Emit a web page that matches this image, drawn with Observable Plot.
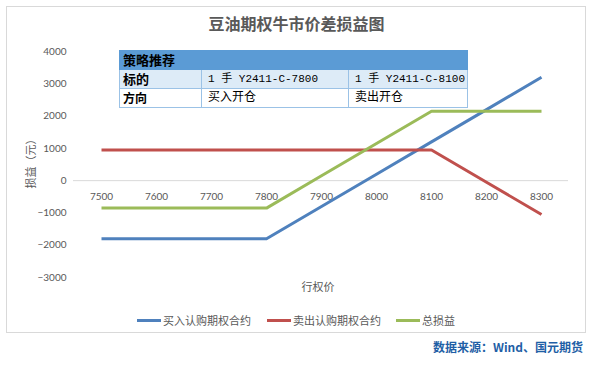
<!DOCTYPE html>
<html>
<head>
<meta charset="utf-8">
<script src="https://cdn.jsdelivr.net/npm/d3@7"></script>
<script src="https://cdn.jsdelivr.net/npm/@observablehq/plot@0.6"></script>
<style>
  html, body { margin: 0; padding: 0; background: #fff; }
  #wrap { position: relative; width: 604px; height: 367px; overflow: hidden;
          font-family: Lato, "Noto Sans CJK SC", sans-serif; color: #595959; }
  #frame { position: absolute; left: 6px; top: 6px; width: 580px; height: 327px;
           border: 1px solid #d9d9d9; box-sizing: border-box; }
  #title { position: absolute; left: 6px; width: 581px; top: 11px; text-align: center;
           font-size: 16px; font-weight: bold; color: #595959; font-family: "Noto Sans CJK SC", sans-serif; }
  #chart { position: absolute; left: 0; top: 0; }
  #ylabel { position: absolute; left: 30px; top: 161px; transform: translate(-50%, -50%) rotate(-90deg);
            font-size: 11px; white-space: nowrap; font-family: "Noto Sans CJK SC", sans-serif; }
  #xlabel { position: absolute; left: 318px; top: 286px; transform: translate(-50%, -50%);
            font-size: 11px; font-family: "Noto Sans CJK SC", sans-serif; }
  #legend { position: absolute; top: 312px; left: 0; width: 604px; height: 16px;
            font-size: 11px; font-family: "Noto Sans CJK SC", sans-serif; }
  .lg { position: absolute; top: 0; display: flex; align-items: center; height: 16px; white-space: nowrap; }
  .sw { width: 24px; height: 3px; margin-right: 2px; }
  #source { position: absolute; right: 21px; top: 338px; font-size: 12px; font-weight: bold;
            color: #1f5fa6; font-family: "Noto Sans CJK SC", sans-serif; }
  #tbl { position: absolute; left: 119px; top: 50px; width: 348px; border-collapse: collapse; table-layout: fixed;
         font-family: "Liberation Mono", "Noto Sans CJK SC", monospace; color: #000; }
  #tbl td { border: 1px solid #9bc2e6; padding: 0 0 0 6px; height: 18px; line-height: 18px;
            font-size: 11px; white-space: nowrap; overflow: hidden; }
  #tbl tr.r2 td { font-size: 12px; }
  #tbl td.h { font-weight: bold; font-size: 13px; font-family: "Noto Sans CJK SC", sans-serif; padding-left: 3px; }
  #tbl tr.r0 td { background: #5b9bd5; border-color: #5b9bd5; }
  #tbl tr.r1 td { background: #ddebf7; }
  #tbl tr.r2 td { background: #fff; }
</style>
</head>
<body>
<div id="wrap">
  <div id="frame"></div>
  <div id="title"></div>
  <div id="chart"></div>
  <div id="ylabel"></div>
  <div id="xlabel"></div>
  <div id="legend"></div>
  <div id="source"></div>
</div>
<script>
// ---- data ----
const titleText = "豆油期权牛市价差损益图";
const yAxisLabel = "损益（元）";
const xAxisLabel = "行权价";
const sourceText = "数据来源：Wind、国元期货";
const strikes = [7500, 7600, 7700, 7800, 7900, 8000, 8100, 8200, 8300];
const buyCall = [-1800, -1800, -1800, -1800, -800, 200, 1200, 2200, 3200];
const sellCall = [950, 950, 950, 950, 950, 950, 950, -50, -1050];
const totalPL = [-850, -850, -850, -850, 150, 1150, 2150, 2150, 2150];
const seriesNames = ["买入认购期权合约", "卖出认购期权合约", "总损益"];
const seriesColors = ["#4f81bd", "#c0504d", "#9bbb59"];
const yTicks = [-3000, -2000, -1000, 0, 1000, 2000, 3000, 4000];
const tableHeader = "策略推荐";
const tableRows = [
  ["标的", "1 手 Y2411-C-7800", "1 手 Y2411-C-8100"],
  ["方向", "买入开仓", "卖出开仓"]
];

// ---- text ----
document.getElementById("title").textContent = titleText;
document.getElementById("ylabel").textContent = yAxisLabel;
document.getElementById("xlabel").textContent = xAxisLabel;
document.getElementById("source").textContent = sourceText;

// ---- legend ----
const legendX = [137, 267, 396];
const legend = document.getElementById("legend");
seriesNames.forEach((n, i) => {
  const d = document.createElement("div");
  d.className = "lg";
  d.style.left = legendX[i] + "px";
  const s = document.createElement("span");
  s.className = "sw";
  s.style.background = seriesColors[i];
  const t = document.createElement("span");
  t.textContent = n;
  d.appendChild(s); d.appendChild(t);
  legend.appendChild(d);
});

// ---- chart ----
const series = [buyCall, sellCall, totalPL];
const rows = [];
series.forEach((vals, i) => vals.forEach((v, j) => rows.push({strike: strikes[j], value: v, series: seriesNames[i]})));

const fmt = d => d < 0 ? "−" + (-d) : String(d);

const chart = Plot.plot({
  width: 604,
  height: 300,
  marginLeft: 73,
  marginRight: 36,
  marginTop: 51,
  marginBottom: 23,
  style: {fontSize: "10px", color: "#595959", background: "transparent", fontFamily: "Lato, 'Noto Sans CJK SC', sans-serif", overflow: "visible"},
  x: {type: "point", domain: strikes, range: [101, 541], padding: 0, axis: null},
  y: {domain: [-3000, 4000], range: [277, 51], axis: null},
  color: {domain: seriesNames, range: seriesColors},
  marks: [
    Plot.ruleY([0], {stroke: "#d9d9d9", strokeWidth: 1}),
    Plot.axisY({ticks: yTicks, tickSize: 0, tickPadding: 7, tickFormat: fmt, label: null, fill: "#595959"}),
    Plot.text(strikes, {x: d => d, y: () => 0, dy: 16, text: d => String(d), fill: "#595959", fontSize: 10}),
    Plot.line(rows, {x: "strike", y: "value", z: "series", stroke: "series", strokeWidth: 3, strokeLinejoin: "round", strokeLinecap: "butt"})
  ]
});
document.getElementById("chart").appendChild(chart);

// ---- table (overlay) ----
const tbl = document.createElement("table");
tbl.id = "tbl";
const colW = [82, 147, 119];
const cg = document.createElement("colgroup");
colW.forEach(w => { const c = document.createElement("col"); c.style.width = w + "px"; cg.appendChild(c); });
tbl.appendChild(cg);
const tr0 = document.createElement("tr");
tr0.className = "r0";
const th = document.createElement("td");
th.colSpan = 3; th.className = "h"; th.textContent = tableHeader;
tr0.appendChild(th);
tbl.appendChild(tr0);
tableRows.forEach((r, i) => {
  const tr = document.createElement("tr");
  tr.className = "r" + (i + 1);
  r.forEach((c, k) => {
    const td = document.createElement("td");
    td.textContent = c;
    if (k === 0) td.className = "h";
    tr.appendChild(td);
  });
  tbl.appendChild(tr);
});
document.getElementById("wrap").appendChild(tbl);
</script>
</body>
</html>
